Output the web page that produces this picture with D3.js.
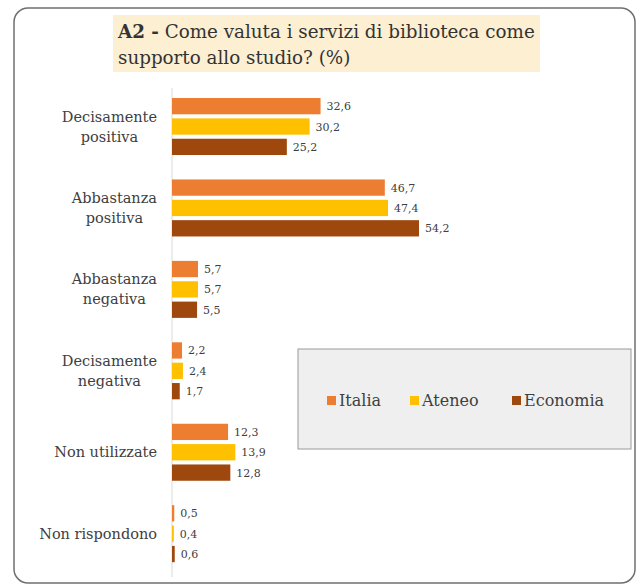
<!DOCTYPE html>
<html><head><meta charset="utf-8">
<script src="https://cdn.jsdelivr.net/npm/d3@7"></script>
<style>body{margin:0;background:#fff;} svg{display:block;} text{font-family:"DejaVu Serif",serif;}</style>
</head><body>
<svg id="c" width="640" height="585"></svg>
<script>
const categories = [["Decisamente","positiva"],["Abbastanza","positiva"],["Abbastanza","negativa"],["Decisamente","negativa"],["Non utilizzate"],["Non rispondono"]];
const seriesNames = ["Italia","Ateneo","Economia"];
const italia = [32.6, 46.7, 5.7, 2.2, 12.3, 0.5];
const ateneo = [30.2, 47.4, 5.7, 2.4, 13.9, 0.4];
const economia = [25.2, 54.2, 5.5, 1.7, 12.8, 0.6];
const colors = ["#ED7D31","#FFC000","#9E480E"];
const seriesValues = [italia, ateneo, economia];

const svg = d3.select("#c");
const textCol = "#404040";

// frame
svg.append("rect").attr("x",14).attr("y",8).attr("width",621).attr("height",575)
  .attr("rx",14).attr("fill","#fff").attr("stroke","#6f6f6f").attr("stroke-width",1.5);

// title box
svg.append("rect").attr("x",113).attr("y",15).attr("width",427).attr("height",57).attr("fill","#FCEFD2");
const t1 = svg.append("text").attr("x",118).attr("y",38).attr("font-size",19).attr("fill","#333");
t1.append("tspan").attr("font-weight","bold").text("A2 -");
t1.append("tspan").text(" Come valuta i servizi di biblioteca come");
const t2 = svg.append("text").attr("x",118).attr("y",64).attr("font-size",19).attr("fill","#333")
  .text("supporto allo studio? (%)");
// fit title line 1 to reference width (~417px)
const w1 = t1.node().getComputedTextLength();
const fs = 19 * 417 / w1;
t1.attr("font-size", fs); t2.attr("font-size", fs);

const x0 = 172;
const x = d3.scaleLinear().domain([0,60]).range([x0, x0 + 60*4.557]);
const y = d3.scaleBand().domain(d3.range(categories.length)).range([85.8, 85.8+488.6]).paddingInner(0.3).paddingOuter(0.15);
const yi = d3.scaleBand().domain(d3.range(3)).range([0, y.bandwidth()]).paddingInner(0.2);

// axis line
svg.append("line").attr("x1",x0).attr("x2",x0).attr("y1",88).attr("y2",577).attr("stroke","#d9d9d9").attr("stroke-width",1);

categories.forEach((cat, ci) => {
  const g = svg.append("g").attr("transform",`translate(0,${y(ci)})`);
  seriesValues.forEach((vals, si) => {
    g.append("rect").attr("x",x0).attr("y",yi(si)).attr("width",x(vals[ci])-x0).attr("height",yi.bandwidth()).attr("fill",colors[si]);
    g.append("text").attr("x",x(vals[ci])+6).attr("y",yi(si)+yi.bandwidth()/2+4)
      .attr("font-size",11).attr("fill",textCol)
      .text(d3.format(".1f")(vals[ci]).replace(".",","));
  });
  const cy = y(ci) + y.bandwidth()/2;
  const lh = 20;
  const texts = cat.map((line, li) => svg.append("text")
    .attr("y", cy + (li - (cat.length-1)/2)*lh + 5)
    .attr("font-size",14.5).attr("fill",textCol).attr("text-anchor","middle").text(line));
  const maxW = d3.max(texts, t => t.node().getComputedTextLength());
  texts.forEach(t => t.attr("x", 157 - maxW/2));
});

// legend
svg.append("rect").attr("x",298).attr("y",349).attr("width",333).attr("height",100).attr("fill","#EFEFEF").attr("stroke","#9a9a9a").attr("stroke-width",1);
const legX = [327, 410, 512];
seriesNames.forEach((n, i) => {
  svg.append("rect").attr("x",legX[i]).attr("y",396).attr("width",9).attr("height",9).attr("fill",colors[i]);
  svg.append("text").attr("x",legX[i]+12).attr("y",406).attr("font-size",16).attr("fill",textCol).text(n);
});
</script>
</body></html>
